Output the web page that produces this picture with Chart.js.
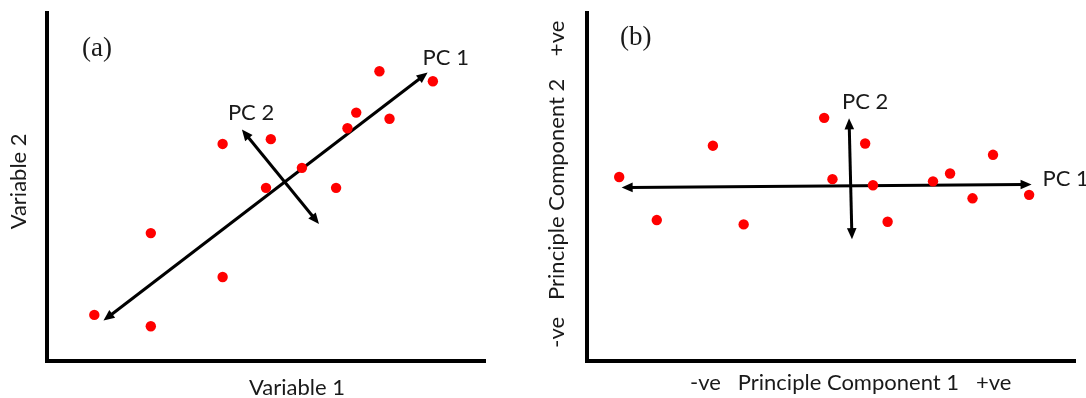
<!DOCTYPE html>
<html>
<head>
<meta charset="utf-8">
<script src="https://cdn.jsdelivr.net/npm/chart.js@4.4.0/dist/chart.umd.min.js"></script>
<style>
html,body{margin:0;padding:0;background:#fff;overflow:hidden}
#wrapa{position:absolute;left:0;top:0;width:520px;height:398px}
#wrapb{position:absolute;left:540px;top:0;width:546px;height:398px}
</style>
</head>
<body>
<div id="wrapa"><canvas id="charta"></canvas></div>
<div id="wrapb"><canvas id="chartb"></canvas></div>
<script>
// (a) raw data: Variable 1 vs Variable 2
const var1 = [1.08, 2.37, 2.37, 4.01, 4.01, 5.11, 5.00, 5.82, 6.60, 6.86, 7.06, 7.59, 7.82, 8.81]
const var2 = [1.06, 0.80, 2.94, 1.93, 4.99, 5.10, 3.98, 4.44, 3.98, 5.35, 5.71, 6.66, 5.57, 6.43]
// ends of the principal direction arrows drawn over the raw data
const pc1AxisX = [1.29, 8.69]
const pc1AxisY = [0.93, 6.63]
const pc2AxisX = [4.45, 6.21]
const pc2AxisY = [5.32, 3.15]

// (b) scores on PC1 / PC2
const score1 = [-4.34, -3.57, -2.42, -1.79, -0.14, 0.03, 0.70, 0.86, 1.16, 2.09, 2.44, 2.90, 3.32, 4.06]
const score2 = [0.23, -0.76, 0.95, -0.86, 1.59, 0.18, 1.00, 0.04, -0.80, 0.13, 0.31, -0.26, 0.74, -0.18]
const pc1ScoreX = [-4.29, 4.11]
const pc1ScoreY = [-0.01, 0.06]
const pc2ScoreX = [0.37, 0.43]
const pc2ScoreY = [1.58, -1.20]

const sans = "Lato, 'Open Sans', sans-serif"
const ink = '#1a1a1a'

function toPoints(xs, ys){
    return xs.map((x, i) => ({x: x, y: ys[i]}))
}

function drawHead(ctx, x, y, ang){
    const len = 11, half = 4.8
    ctx.beginPath()
    ctx.moveTo(x, y)
    ctx.lineTo(x - len*Math.cos(ang) + half*Math.sin(ang), y - len*Math.sin(ang) - half*Math.cos(ang))
    ctx.lineTo(x - len*Math.cos(ang) - half*Math.sin(ang), y - len*Math.sin(ang) + half*Math.cos(ang))
    ctx.closePath()
    ctx.fill()
}

// double headed arrows + free labels, positioned from the chart's own elements
const arrowPlugin = {
    id: 'arrows',
    beforeDatasetsDraw(chart){
        const ctx = chart.ctx
        chart.data.datasets.forEach((ds, i) => {
            if(!ds.arrow) return
            const pts = chart.getDatasetMeta(i).data
            const a = pts[0], b = pts[1]
            const ang = Math.atan2(b.y - a.y, b.x - a.x)
            ctx.save()
            ctx.strokeStyle = '#000'
            ctx.fillStyle = '#000'
            ctx.lineWidth = 3
            ctx.beginPath()
            ctx.moveTo(a.x + 8*Math.cos(ang), a.y + 8*Math.sin(ang))
            ctx.lineTo(b.x - 8*Math.cos(ang), b.y - 8*Math.sin(ang))
            ctx.stroke()
            drawHead(ctx, b.x, b.y, ang)
            drawHead(ctx, a.x, a.y, ang + Math.PI)
            ctx.restore()
        })
    },
    afterDraw(chart, args, opts){
        const ctx = chart.ctx
        const area = chart.chartArea
        ctx.save()
        ctx.textAlign = 'left'
        ctx.textBaseline = 'alphabetic'
        ctx.fillStyle = ink
        ctx.font = "27px 'Liberation Serif', 'Times New Roman', serif"
        ctx.fillText(opts.tag, area.left + opts.tagDx, area.top + opts.tagDy)
        ctx.font = '22px ' + sans
        opts.labels.forEach(l => {
            const p = chart.getDatasetMeta(l.ds).data[l.end]
            ctx.fillText(l.text, p.x + l.dx, p.y + l.dy)
        })
        ctx.restore()
    }
}

function axisTitle(text, pad){
    return {display: true, text: text, color: ink, padding: pad,
            font: {family: sans, size: 22, lineHeight: 1}}
}

function makeChart(id, cfg){
    const ctx = document.getElementById(id).getContext('2d')
    return new Chart(ctx, {
        type: 'scatter',
        data: {
            datasets: [
                {data: toPoints(cfg.xs, cfg.ys), pointRadius: 5.2, pointBorderWidth: 0,
                 pointBackgroundColor: '#ff0000', backgroundColor: '#ff0000'},
                {data: toPoints(cfg.pc1x, cfg.pc1y), arrow: true, pointRadius: 0, showLine: false},
                {data: toPoints(cfg.pc2x, cfg.pc2y), arrow: true, pointRadius: 0, showLine: false}
            ]
        },
        options: {
            responsive: true,
            maintainAspectRatio: false,
            animation: false,
            events: [],
            layout: {padding: {top: 13, right: cfg.padRight, left: 0, bottom: 0}},
            plugins: {
                legend: {display: false},
                tooltip: {enabled: false},
                arrows: {tag: cfg.tag, tagDx: cfg.tagDx, tagDy: cfg.tagDy, labels: cfg.labels}
            },
            scales: {
                x: {
                    type: 'linear', min: cfg.xmin, max: cfg.xmax,
                    ticks: {display: false},
                    grid: {display: false, drawTicks: false},
                    border: {display: true, width: 4, color: '#000'},
                    title: axisTitle(cfg.xTitle, {top: 0, bottom: cfg.xTitlePad}),
                    afterFit: s => { s.height = 37 }
                },
                y: {
                    type: 'linear', min: cfg.ymin, max: cfg.ymax,
                    ticks: {display: false},
                    grid: {display: false, drawTicks: false},
                    border: {display: true, width: 4, color: '#000'},
                    title: axisTitle(cfg.yTitle, {top: cfg.yTitlePad, bottom: 0}),
                    afterFit: s => { s.width = 47 }
                }
            }
        },
        plugins: [arrowPlugin]
    })
}

makeChart('charta', {
    xs: var1, ys: var2,
    pc1x: pc1AxisX, pc1y: pc1AxisY, pc2x: pc2AxisX, pc2y: pc2AxisY,
    xmin: 0, xmax: 10, ymin: 0, ymax: 8,
    padRight: 35,
    xTitle: '           Variable 1', xTitlePad: -1,
    yTitle: '  Variable 2', yTitlePad: 8,
    tag: '(a)', tagDx: 35, tagDy: 43,
    labels: [
        {text: 'PC 1', ds: 1, end: 1, dx: -5, dy: -8},
        {text: 'PC 2', ds: 2, end: 0, dx: -14, dy: -10}
    ]
})

makeChart('chartb', {
    xs: score1, ys: score2,
    pc1x: pc1ScoreX, pc1y: pc1ScoreY, pc2x: pc2ScoreX, pc2y: pc2ScoreY,
    xmin: -5, xmax: 5, ymin: -4, ymax: 4,
    padRight: 11,
    xTitle: '       -ve   Principle Component 1   +ve', xTitlePad: 4,
    yTitle: ' -ve   Principle Component 2    +ve', yTitlePad: 6,
    tag: '(b)', tagDx: 33, tagDy: 32,
    labels: [
        {text: 'PC 1', ds: 1, end: 1, dx: 11, dy: 2},
        {text: 'PC 2', ds: 2, end: 0, dx: -7, dy: -9}
    ]
})
</script>
</body>
</html>
